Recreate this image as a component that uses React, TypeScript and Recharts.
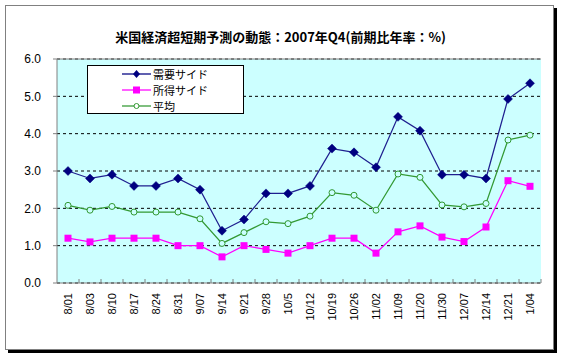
import React from 'react';
import {
  LineChart,
  Line,
  XAxis,
  YAxis,
  CartesianGrid,
  ReferenceLine
} from 'recharts';

const title = '米国経済超短期予測の動態：2007年Q4(前期比年率：%)';

const dates = [
  '8/01', '8/03', '8/10', '8/17', '8/24', '8/31', '9/07', '9/14', '9/21', '9/28', '10/5',
  '10/12', '10/19', '10/26', '11/02', '11/09', '11/20', '11/30', '12/07', '12/14', '12/21', '1/04'
];

const demandSide = [3.0, 2.8, 2.9, 2.6, 2.6, 2.8, 2.5, 1.4, 1.7, 2.4, 2.4, 2.6, 3.6, 3.5, 3.1, 4.45, 4.08, 2.9, 2.9, 2.8, 4.93, 5.35];
const incomeSide = [1.2, 1.1, 1.2, 1.2, 1.2, 1.0, 1.0, 0.7, 1.0, 0.9, 0.8, 1.0, 1.2, 1.2, 0.8, 1.37, 1.53, 1.23, 1.11, 1.5, 2.74, 2.59];
const average = [2.08, 1.95, 2.05, 1.9, 1.9, 1.9, 1.72, 1.06, 1.35, 1.64, 1.59, 1.79, 2.42, 2.35, 1.95, 2.92, 2.83, 2.09, 2.04, 2.13, 3.83, 3.96];

const seriesNames = ['需要サイド', '所得サイド', '平均'];
const yTicks = [0, 1, 2, 3, 4, 5, 6];

const chartData = dates.map((d, i) => ({
  date: d,
  demand: demandSide[i],
  income: incomeSide[i],
  avg: average[i]
}));

const DiamondDot = (props: any) => {
  const { cx, cy, index } = props;
  if (cx == null || cy == null) return null;
  const r = 4.5;
  return (
    <path
      key={`dm-${index}`}
      d={`M${cx},${cy - r}L${cx + r},${cy}L${cx},${cy + r}L${cx - r},${cy}Z`}
      fill="#000080"
      stroke="#000080"
      strokeWidth={0.5}
    />
  );
};

const SquareDot = (props: any) => {
  const { cx, cy, index } = props;
  if (cx == null || cy == null) return null;
  return <rect key={`in-${index}`} x={cx - 3.5} y={cy - 3.5} width={7} height={7} fill="#FF00FF" />;
};

const RingDot = (props: any) => {
  const { cx, cy, index } = props;
  if (cx == null || cy == null) return null;
  return <circle key={`av-${index}`} cx={cx} cy={cy} r={3} fill="#CCFFFF" stroke="#339933" strokeWidth={1} />;
};

// category ticks sit between the points, Excel-style
const DateTick = (props: any) => {
  const { x, y, payload } = props;
  return (
    <g>
      <line x1={x + 11} x2={x + 11} y1={y - 4} y2={y} stroke="#808080" />
      <text
        transform={`translate(${x + 4},${y + 10}) rotate(-90)`}
        textAnchor="end"
        fontSize={11}
        fontFamily="'Liberation Sans', Arial, sans-serif"
        fill="#000"
      >
        {payload.value}
      </text>
    </g>
  );
};

const legendItems = [
  { name: seriesNames[0], color: '#000080', shape: 'diamond' },
  { name: seriesNames[1], color: '#FF00FF', shape: 'square' },
  { name: seriesNames[2], color: '#339933', shape: 'ring' }
];

const LegendBox = () => (
  <div
    style={{
      position: 'absolute',
      left: 87,
      top: 65,
      width: 157,
      height: 49,
      background: '#ffffff',
      border: '1px solid #000',
      boxSizing: 'border-box',
      paddingTop: 0
    }}
  >
    {legendItems.map(item => (
      <div key={item.name} style={{ display: 'flex', alignItems: 'center', height: 16 }}>
        <svg width={64} height={14} style={{ flex: 'none' }}>
          <line x1={34} x2={63} y1={7} y2={7} stroke={item.color} strokeWidth={1.25} />
          {item.shape === 'diamond' && <path d="M48.5,3L52,7L48.5,11L45,7Z" fill={item.color} />}
          {item.shape === 'square' && <rect x={45} y={3.5} width={7} height={7} fill={item.color} />}
          {item.shape === 'ring' && <circle cx={48.5} cy={7} r={2.5} fill="#fff" stroke={item.color} />}
        </svg>
        <span
          style={{
            fontFamily: "'Noto Sans CJK JP', sans-serif",
            fontSize: 11,
            lineHeight: '16px',
            color: '#000',
            marginLeft: 1
          }}
        >
          {item.name}
        </span>
      </div>
    ))}
  </div>
);

const App: React.FC = () => {
  return (
    <div style={{ position: 'fixed', left: 0, top: 0, width: 561, height: 359, background: '#fff' }}>
      <div
        style={{
          position: 'absolute',
          left: 5,
          top: 5,
          width: 549,
          height: 345,
          border: '1px solid #808080',
          boxSizing: 'border-box',
          boxShadow: '3px 3px 0 #000'
        }}
      />
      <div
        style={{
          position: 'absolute',
          left: 0,
          top: 28,
          width: 561,
          textAlign: 'center',
          fontFamily: "'Noto Sans CJK JP', sans-serif",
          fontWeight: 'bold',
          fontSize: 13,
          lineHeight: '18px',
          color: '#000'
        }}
      >
        {title}
      </div>
      <div style={{ position: 'absolute', left: 0, top: 0 }}>
        <LineChart width={561} height={359} data={chartData} margin={{ top: 59, right: 20, bottom: 0, left: 0 }}>
          <CartesianGrid
            vertical={false}
            fill="#CCFFFF"
            stroke="#000"
            strokeDasharray="3 3"
          />
          <XAxis
            dataKey="date"
            height={76}
            interval={0}
            padding={{ left: 11, right: 11 }}
            axisLine={{ stroke: '#808080' }}
            tickLine={false}
            tickSize={0}
            tickMargin={0}
            tick={<DateTick />}
          />
          <YAxis
            width={57}
            domain={[0, 6]}
            ticks={yTicks}
            tickFormatter={(v: number) => v.toFixed(1)}
            axisLine={{ stroke: '#808080' }}
            tickLine={{ stroke: '#808080' }}
            tickSize={4}
            tickMargin={12}
            tick={{ fontSize: 12, fill: '#000', fontFamily: "'Liberation Sans', Arial, sans-serif" }}
          />
          <YAxis
            yAxisId="right"
            orientation="right"
            width={0}
            domain={[0, 6]}
            tick={false}
            tickLine={false}
            axisLine={{ stroke: '#808080' }}
          />
          <ReferenceLine y={6} stroke="#808080" />
          <Line
            dataKey="avg"
            name={seriesNames[2]}
            stroke="#339933"
            strokeWidth={1.25}
            dot={<RingDot />}
            isAnimationActive={false}
          />
          <Line
            dataKey="income"
            name={seriesNames[1]}
            stroke="#FF00FF"
            strokeWidth={1.25}
            dot={<SquareDot />}
            isAnimationActive={false}
          />
          <Line
            dataKey="demand"
            name={seriesNames[0]}
            stroke="#1F1F8F"
            strokeWidth={1.25}
            dot={<DiamondDot />}
            isAnimationActive={false}
          />
        </LineChart>
      </div>
      <LegendBox />
    </div>
  );
};

export default App;
